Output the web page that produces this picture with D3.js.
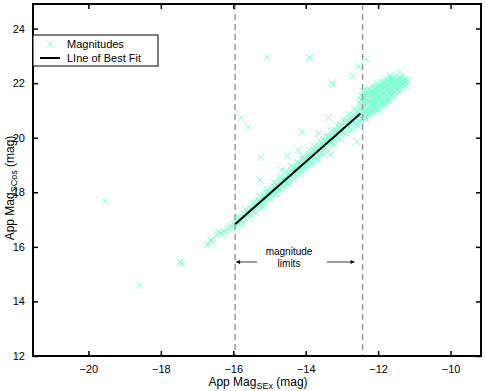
<!DOCTYPE html>
<html lang="en">
<head>
<meta charset="UTF-8">
<title>App Mag SEx vs SCos</title>
<script src="https://d3js.org/d3.v7.min.js"></script>
<style>
body { margin: 0; background: #fff; }
svg { font-family: "Liberation Sans", Arial, sans-serif; }
.tick text { font-size: 11px; fill: #000; }
</style>
</head>
<body>
<svg width="485" height="391"></svg>
<script>
// tick values
const xTicks = [-20, -18, -16, -14, -12, -10];
const yTicks = [12, 14, 16, 18, 20, 22, 24];

// magnitude limits (dashed lines)
const magLimits = [-15.95, -12.43];

// line of best fit end points [SEx, SCos]
const fitLine = [[-15.95, 16.83], [-12.49, 20.89]];

// outliers
const outliers = [
    [-19.54, 17.67], [-18.59, 14.6], [-17.47, 15.44], [-17.4, 15.4],
    [-15.07, 22.94], [-13.9, 22.94], [-13.28, 22.01], [-13.25, 21.95],
    [-15.79, 20.72], [-15.6, 20.4], [-15.24, 19.28], [-15.26, 18.45],
    [-14.1, 20.2], [-14.5, 19.33], [-14.2, 19.55], [-14.66, 18.81],
    [-13.37, 20.74], [-13.65, 20.15], [-13.32, 19.36], [-12.59, 19.85],
    [-12.33, 22.87], [-12.54, 22.62], [-12.7, 22.26], [-11.39, 22.41],
    [-11.16, 22.05]
];

// main band of magnitudes
const bandPoints = [
    [-16.73, 16.07], [-16.68, 16.12], [-16.62, 16.25], [-16.58, 16.18], [-16.55, 16.3],
    [-16.45, 16.45], [-16.41, 16.55], [-16.36, 16.48], [-16.32, 16.5], [-16.28, 16.6],
    [-16.2, 16.55], [-16.15, 16.68], [-16.09, 16.76], [-16.04, 16.7], [-15.98, 16.82],
    [-15.95, 16.9], [-15.92, 16.75],
    [-15.9, 16.95], [-15.87, 16.85], [-15.83, 17.0],
    [-15.8, 17.05], [-15.77, 16.93], [-15.74, 17.12],
    [-15.7, 17.2], [-15.67, 17.05], [-15.63, 17.22],
    [-15.6, 17.3], [-15.57, 17.18], [-15.54, 17.38], [-15.52, 17.22],
    [-15.5, 17.42], [-15.47, 17.3], [-15.44, 17.5], [-15.42, 17.35],
    [-15.4, 17.55], [-15.37, 17.4], [-15.35, 17.62], [-15.32, 17.48],
    [-15.3, 17.7], [-15.28, 17.52], [-15.25, 17.65], [-15.22, 17.8],
    [-15.2, 17.75], [-15.17, 17.6], [-15.14, 17.85], [-15.12, 17.72], [-15.1, 17.95],
    [-15.08, 17.8], [-15.05, 17.95], [-15.03, 17.75], [-15.01, 18.05],
    [-14.98, 18.0], [-14.95, 17.88], [-14.93, 18.12], [-14.9, 17.98], [-14.88, 18.2],
    [-14.86, 18.05], [-14.84, 18.2], [-14.81, 17.98], [-14.79, 18.3], [-14.77, 18.12],
    [-14.75, 18.2], [-14.73, 18.35], [-14.7, 18.1], [-14.68, 18.28], [-14.66, 18.45],
    [-14.64, 18.3], [-14.62, 18.48], [-14.6, 18.22], [-14.58, 18.4], [-14.56, 18.55],
    [-14.54, 18.45], [-14.52, 18.6], [-14.5, 18.35], [-14.47, 18.52], [-14.45, 18.7], [-14.43, 18.5],
    [-14.41, 18.62], [-14.39, 18.8], [-14.37, 18.55], [-14.35, 18.72], [-14.33, 18.9], [-14.31, 18.66],
    [-14.29, 18.75], [-14.27, 18.92], [-14.25, 18.68], [-14.23, 18.85], [-14.21, 19.05], [-14.19, 18.8],
    [-14.17, 18.9], [-14.15, 19.05], [-14.13, 18.82], [-14.11, 19.0], [-14.09, 19.2], [-14.07, 18.95],
    [-14.05, 19.05], [-14.03, 19.2], [-14.01, 18.98], [-13.99, 19.15], [-13.97, 19.3], [-13.95, 19.08], [-13.93, 19.4],
    [-13.91, 19.2], [-13.89, 19.35], [-13.87, 19.12], [-13.85, 19.28], [-13.83, 19.45], [-13.81, 19.22], [-13.79, 19.55],
    [-13.77, 19.35], [-13.75, 19.5], [-13.73, 19.25], [-13.71, 19.42], [-13.69, 19.6], [-13.67, 19.38], [-13.65, 19.7],
    [-13.63, 19.5], [-13.61, 19.65], [-13.59, 19.42], [-13.57, 19.6], [-13.55, 19.8], [-13.53, 19.55], [-13.51, 19.9], [-13.5, 19.68],
    [-13.48, 19.7], [-13.46, 19.85], [-13.44, 19.6], [-13.42, 19.78], [-13.4, 20.0], [-13.38, 19.72], [-13.36, 20.05], [-13.34, 19.85],
    [-13.32, 19.9], [-13.3, 20.05], [-13.28, 19.82], [-13.26, 20.0], [-13.24, 20.2], [-13.22, 19.95], [-13.2, 20.28], [-13.18, 20.05],
    [-13.16, 20.1], [-13.14, 20.25], [-13.12, 20.02], [-13.1, 20.2], [-13.08, 20.4], [-13.06, 20.15], [-13.04, 20.45], [-13.02, 20.25],
    [-13.0, 20.3], [-12.98, 20.45], [-12.96, 20.2], [-12.94, 20.38], [-12.92, 20.58], [-12.9, 20.35], [-12.88, 20.62], [-12.86, 20.42],
    [-12.84, 20.45], [-12.82, 20.6], [-12.8, 20.38], [-12.78, 20.55], [-12.76, 20.75], [-12.74, 20.5], [-12.72, 20.8], [-12.7, 20.6],
    [-12.68, 20.65], [-12.66, 20.82], [-12.64, 20.55], [-12.62, 20.75], [-12.6, 20.95], [-12.58, 20.7], [-12.56, 21.0], [-12.54, 20.8], [-12.52, 20.6],
    // wider scatter either side of the fit
    [-15.85, 17.1], [-15.75, 16.85], [-15.65, 17.35], [-15.55, 17.05], [-15.45, 17.6], [-15.38, 17.25],
    [-15.27, 17.85], [-15.18, 17.45], [-15.06, 18.1], [-14.97, 17.75], [-14.87, 18.35], [-14.8, 17.95],
    [-14.72, 18.55], [-14.63, 18.15], [-14.55, 18.75], [-14.48, 18.3], [-14.4, 18.95], [-14.32, 18.5],
    [-14.24, 19.1], [-14.16, 18.65], [-14.08, 19.3], [-14.0, 18.85], [-13.92, 19.55], [-13.84, 19.05],
    [-13.76, 19.7], [-13.68, 19.2], [-13.6, 19.9], [-13.52, 19.4], [-13.45, 20.05], [-13.37, 19.5],
    [-13.29, 20.25], [-13.21, 19.75], [-13.13, 20.45], [-13.05, 19.95], [-12.97, 20.65], [-12.89, 20.15],
    [-12.81, 20.85], [-12.73, 20.3], [-12.65, 21.05], [-12.57, 20.45],
    [-14.9, 18.1], [-14.6, 18.38], [-14.3, 18.8], [-14.0, 19.1], [-13.7, 19.45], [-13.4, 19.85],
    [-13.1, 20.2], [-12.8, 20.55], [-12.55, 20.9]
];

// dense clump of faint objects
const clumpPoints = [
    [-12.5, 20.62], [-12.49, 20.83], [-12.48, 21.02], [-12.47, 21.22], [-12.46, 21.4],
    [-12.44, 20.72], [-12.43, 20.95], [-12.42, 21.1], [-12.41, 21.3], [-12.4, 21.5],
    [-12.38, 20.78], [-12.37, 20.9], [-12.36, 21.15], [-12.35, 21.35], [-12.34, 21.58],
    [-12.32, 20.85], [-12.31, 21.05], [-12.3, 21.22], [-12.29, 21.42], [-12.28, 21.62],
    [-12.26, 20.88], [-12.25, 21.1], [-12.24, 21.28], [-12.23, 21.5], [-12.22, 21.7],
    [-12.2, 20.95], [-12.19, 21.15], [-12.18, 21.35], [-12.17, 21.55], [-12.16, 21.72],
    [-12.14, 21.0], [-12.13, 21.2], [-12.12, 21.42], [-12.11, 21.6], [-12.1, 21.8],
    [-12.08, 21.05], [-12.07, 21.25], [-12.06, 21.45], [-12.05, 21.65], [-12.04, 21.85],
    [-12.02, 21.1], [-12.01, 21.3], [-12.0, 21.5], [-11.99, 21.7], [-11.98, 21.88],
    [-11.96, 21.15], [-11.95, 21.35], [-11.94, 21.55], [-11.93, 21.75], [-11.92, 21.92],
    [-11.9, 21.25], [-11.89, 21.42], [-11.88, 21.6], [-11.87, 21.8], [-11.86, 21.98],
    [-11.84, 21.3], [-11.83, 21.48], [-11.82, 21.65], [-11.81, 21.85], [-11.8, 22.02],
    [-11.78, 21.38], [-11.77, 21.55], [-11.76, 21.72], [-11.75, 21.9], [-11.74, 22.08],
    [-11.72, 21.45], [-11.71, 21.62], [-11.7, 21.78], [-11.69, 21.95], [-11.68, 22.12],
    [-11.66, 21.52], [-11.65, 21.68], [-11.64, 21.85], [-11.63, 22.0], [-11.62, 22.15],
    [-11.6, 21.6], [-11.59, 21.75], [-11.58, 21.9], [-11.57, 22.05], [-11.56, 22.2],
    [-11.54, 21.68], [-11.53, 21.82], [-11.52, 21.96], [-11.51, 22.1],
    [-11.48, 21.75], [-11.47, 21.9], [-11.46, 22.02], [-11.45, 22.15],
    [-11.42, 21.82], [-11.41, 21.95], [-11.4, 22.08], [-11.39, 22.2],
    [-11.36, 21.9], [-11.35, 22.02], [-11.34, 22.12],
    [-11.3, 21.98], [-11.29, 22.08], [-11.26, 22.05], [-11.22, 22.1],
    // fill between columns
    [-12.49, 20.72], [-12.45, 21.12], [-12.43, 21.32], [-12.39, 21.0], [-12.36, 21.45], [-12.33, 20.95],
    [-12.3, 21.7], [-12.27, 21.32], [-12.24, 21.02], [-12.21, 21.6], [-12.18, 21.25], [-12.15, 21.45],
    [-12.12, 21.1], [-12.09, 21.7], [-12.06, 21.35], [-12.03, 21.55], [-12.0, 21.2], [-11.97, 21.8],
    [-11.94, 21.45], [-11.91, 21.65], [-11.88, 21.3], [-11.85, 21.9], [-11.82, 21.55], [-11.79, 21.75],
    [-11.76, 21.45], [-11.73, 22.0], [-11.7, 21.65], [-11.67, 21.88], [-11.64, 21.58], [-11.61, 22.1],
    [-11.58, 21.7], [-11.55, 21.98], [-11.52, 21.75], [-11.49, 22.05], [-11.46, 21.85], [-11.43, 22.1],
    [-11.4, 21.92], [-11.37, 22.18], [-11.33, 22.0], [-11.28, 22.15],
    [-12.52, 21.3], [-12.47, 21.55], [-12.42, 21.7], [-12.38, 21.6], [-12.26, 21.8], [-12.14, 21.9],
    [-12.02, 22.0], [-11.9, 22.05], [-11.78, 22.15], [-11.66, 22.25], [-11.5, 22.28],
    [-12.35, 20.7], [-12.25, 20.78], [-12.12, 20.9], [-12.0, 21.0], [-11.85, 21.18], [-11.7, 21.35],
    [-11.55, 21.5], [-11.4, 21.7], [-11.25, 21.9]
];

const margin = { left: 33, right: 4, top: 4, bottom: 35 };
const width = 485, height = 391;

const x = d3.scaleLinear().domain([-21.53, -9.16]).range([margin.left, width - margin.right]);
const y = d3.scaleLinear().domain([12, 24.9]).range([height - margin.bottom, margin.top]);

const svg = d3.select('svg');
const cross = 'M-3.5,-3.5L3.5,3.5M-3.5,3.5L3.5,-3.5';
const markColor = '#7fffd4';

const allPoints = bandPoints.concat(clumpPoints, outliers);

svg.append('g')
    .selectAll('path')
    .data(allPoints)
    .enter()
    .append('path')
    .attr('d', cross)
    .attr('transform', d => `translate(${x(d[0])},${y(d[1])})`)
    .attr('stroke', markColor)
    .attr('stroke-width', 1)
    .attr('fill', 'none');

// best fit
svg.append('line')
    .attr('x1', x(fitLine[0][0])).attr('y1', y(fitLine[0][1]))
    .attr('x2', x(fitLine[1][0])).attr('y2', y(fitLine[1][1]))
    .attr('stroke', '#000')
    .attr('stroke-width', 2);

// magnitude limits
svg.selectAll('.limit')
    .data(magLimits)
    .enter()
    .append('line')
    .attr('class', 'limit')
    .attr('x1', d => x(d)).attr('x2', d => x(d))
    .attr('y1', y(24.9)).attr('y2', y(12))
    .attr('stroke', '#999')
    .attr('stroke-width', 1.5)
    .attr('stroke-dasharray', '6,4');

// axes, ticks point inward
const tickLen = 5;
svg.append('g')
    .attr('transform', `translate(0,${y(12)})`)
    .call(d3.axisBottom(x).tickValues(xTicks).tickSizeInner(-tickLen).tickSizeOuter(0).tickPadding(9))
    .call(g => g.select('.domain').remove());
svg.append('g')
    .attr('transform', `translate(0,${y(24.9)})`)
    .call(d3.axisTop(x).tickValues(xTicks).tickSizeInner(-tickLen).tickSizeOuter(0).tickFormat(''))
    .call(g => g.select('.domain').remove());
svg.append('g')
    .attr('transform', `translate(${x(-21.53)},0)`)
    .call(d3.axisLeft(y).tickValues(yTicks).tickSizeInner(-tickLen).tickSizeOuter(0).tickPadding(8))
    .call(g => g.select('.domain').remove());
svg.append('g')
    .attr('transform', `translate(${x(-9.16)},0)`)
    .call(d3.axisRight(y).tickValues(yTicks).tickSizeInner(-tickLen).tickSizeOuter(0).tickFormat(''))
    .call(g => g.select('.domain').remove());
svg.selectAll('.tick line').attr('stroke-width', 1.5);

// frame
svg.append('rect')
    .attr('x', x(-21.53)).attr('y', y(24.9))
    .attr('width', x(-9.16) - x(-21.53))
    .attr('height', y(12) - y(24.9))
    .attr('fill', 'none')
    .attr('stroke', '#000')
    .attr('stroke-width', 2);

// axis labels
const xl = svg.append('text')
    .attr('x', 258).attr('y', 386)
    .attr('text-anchor', 'middle')
    .attr('font-size', '12px');
xl.append('tspan').text('App Mag');
xl.append('tspan').attr('font-size', '9px').attr('dy', 3).text('SEx');
xl.append('tspan').attr('dy', -3).text(' (mag)');

const yl = svg.append('text')
    .attr('transform', 'translate(14,188) rotate(-90)')
    .attr('text-anchor', 'middle')
    .attr('font-size', '12px');
yl.append('tspan').text('App Mag');
yl.append('tspan').attr('font-size', '9px').attr('dy', 3).text('SCos');
yl.append('tspan').attr('dy', -3).text(' (mag)');

// magnitude limits annotation
svg.append('defs').append('marker')
    .attr('id', 'head')
    .attr('viewBox', '0 0 10 10')
    .attr('refX', 10).attr('refY', 5)
    .attr('markerWidth', 7).attr('markerHeight', 5)
    .attr('orient', 'auto')
    .append('path').attr('d', 'M0,0L10,5L0,10z').attr('fill', '#000');

const annY = 262;
svg.append('text').attr('x', 289).attr('y', 255).attr('text-anchor', 'middle')
    .attr('font-size', '10px').text('magnitude');
svg.append('text').attr('x', 289).attr('y', 267).attr('text-anchor', 'middle')
    .attr('font-size', '10px').text('limits');
svg.append('line')
    .attr('x1', 257).attr('y1', annY).attr('x2', x(magLimits[0]) + 1).attr('y2', annY)
    .attr('stroke', '#000').attr('stroke-width', 0.8).attr('marker-end', 'url(#head)');
svg.append('line')
    .attr('x1', 327).attr('y1', annY).attr('x2', x(magLimits[1]) - 8).attr('y2', annY)
    .attr('stroke', '#000').attr('stroke-width', 0.8).attr('marker-end', 'url(#head)');

// legend
const lg = svg.append('g').attr('transform', 'translate(33,35)');
lg.append('rect').attr('width', 125).attr('height', 31)
    .attr('fill', '#fff').attr('stroke', '#000').attr('stroke-width', 1);
lg.append('path').attr('d', cross).attr('transform', 'translate(17,9)')
    .attr('stroke', markColor).attr('fill', 'none');
lg.append('text').attr('x', 34).attr('y', 13).attr('font-size', '11px').text('Magnitudes');
lg.append('line').attr('x1', 7).attr('x2', 27).attr('y1', 23).attr('y2', 23)
    .attr('stroke', '#000').attr('stroke-width', 2);
lg.append('text').attr('x', 34).attr('y', 27).attr('font-size', '11px').text('LIne of Best Fit');
</script>
</body>
</html>
